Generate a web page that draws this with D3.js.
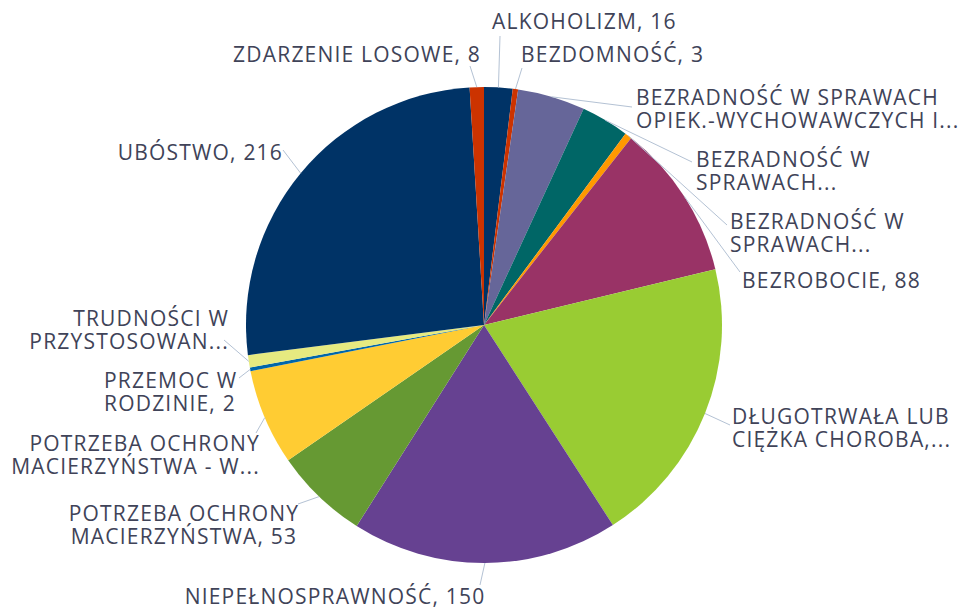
<!DOCTYPE html>
<html>
<head>
<meta charset="utf-8">
<script src="https://cdn.jsdelivr.net/npm/d3@7"></script>
<style>
  body { margin: 0; background: #fff; }
  svg text { font-family: "Open Sans", sans-serif; fill: #404358; }
</style>
</head>
<body>
<svg id="chart" width="964" height="609"></svg>
<script>
// categories in the order they appear, clockwise from 12 o'clock
let categories = [
  "ALKOHOLIZM", "BEZDOMNOŚĆ", "BEZRADNOŚĆ W SPRAWACH OPIEK.-WYCHOWAWCZYCH I...",
  "BEZRADNOŚĆ W SPRAWACH...", "BEZRADNOŚĆ W SPRAWACH...", "BEZROBOCIE",
  "DŁUGOTRWAŁA LUB CIĘŻKA CHOROBA", "NIEPEŁNOSPRAWNOŚĆ", "POTRZEBA OCHRONY MACIERZYŃSTWA",
  "POTRZEBA OCHRONY MACIERZYŃSTWA - W...", "PRZEMOC W RODZINIE", "TRUDNOŚCI W PRZYSTOSOWANIU",
  "UBÓSTWO", "ZDARZENIE LOSOWE"
];
let values = [16, 3, 38, 27, 4, 88, 163, 150, 53, 54, 2, 7, 216, 8];

// label text as shown (truncated ones keep the ellipsis)
let labelLines = [
  ["ALKOHOLIZM, 16"],
  ["BEZDOMNOŚĆ, 3"],
  ["BEZRADNOŚĆ W SPRAWACH", "OPIEK.-WYCHOWAWCZYCH I..."],
  ["BEZRADNOŚĆ W", "SPRAWACH..."],
  ["BEZRADNOŚĆ W", "SPRAWACH..."],
  ["BEZROBOCIE, 88"],
  ["DŁUGOTRWAŁA LUB", "CIĘŻKA CHOROBA,..."],
  ["NIEPEŁNOSPRAWNOŚĆ, 150"],
  ["POTRZEBA OCHRONY", "MACIERZYŃSTWA, 53"],
  ["POTRZEBA OCHRONY", "MACIERZYŃSTWA - W..."],
  ["PRZEMOC W", "RODZINIE, 2"],
  ["TRUDNOŚCI W", "PRZYSTOSOWAN..."],
  ["UBÓSTWO, 216"],
  ["ZDARZENIE LOSOWE, 8"]
];

let colors = ["#003366", "#cc3300", "#666699", "#006666", "#ff9900", "#993366",
              "#99cc33", "#664191", "#669933", "#ffcc33", "#0066aa", "#e6ea80"];

// label layout: text anchor x, first baseline y, alignment, leader end point
let labelLayout = [
  {x: 492, y: 29, anchor: "start", lx: 500, ly: 36},
  {x: 521, y: 62, anchor: "start", lx: 522, ly: 68},
  {x: 636, y: 105, anchor: "start", lx: 632, ly: 107},
  {x: 696, y: 167, anchor: "start", lx: 692, ly: 162},
  {x: 730, y: 229, anchor: "start", lx: 727, ly: 225},
  {x: 742, y: 288, anchor: "start", lx: 740, ly: 272},
  {x: 732, y: 424, anchor: "start", lx: 730, ly: 425},
  {x: 335, y: 604, anchor: "middle", lx: 480, ly: 585},
  {x: 184, y: 521, anchor: "middle", lx: 298, ly: 504},
  {x: 260, y: 451, anchor: "end", lx: 256, ly: 433},
  {x: 104, y: 388, anchor: "start", lx: 239, ly: 378},
  {x: 229, y: 326, anchor: "end", lx: 224, ly: 340},
  {x: 283, y: 160, anchor: "end", lx: 283, ly: 150},
  {x: 481, y: 62, anchor: "end", lx: 470, ly: 66}
];

let cx = 484, cy = 325, radius = 238;
let svg = d3.select("#chart");

let color = d3.scaleOrdinal().domain(d3.range(values.length)).range(colors);

let pie = d3.pie().sort(null).value(d => d)(values);
let arc = d3.arc().innerRadius(0).outerRadius(radius);

let g = svg.append("g").attr("transform", "translate(" + cx + "," + cy + ")");

g.selectAll("path.slice")
  .data(pie)
  .enter()
  .append("path")
  .attr("class", "slice")
  .attr("d", arc)
  .attr("fill", (d, i) => color(i));

// leader lines from the slice edge to the label
g.selectAll("line.leader")
  .data(pie)
  .enter()
  .append("line")
  .attr("class", "leader")
  .attr("x1", d => Math.sin((d.startAngle + d.endAngle) / 2) * radius)
  .attr("y1", d => -Math.cos((d.startAngle + d.endAngle) / 2) * radius)
  .attr("x2", (d, i) => labelLayout[i].lx - cx)
  .attr("y2", (d, i) => labelLayout[i].ly - cy)
  .attr("stroke", "#b4c2d4")
  .attr("stroke-width", 1);

let labels = svg.selectAll("text.lbl")
  .data(labelLines)
  .enter()
  .append("text")
  .attr("class", "lbl")
  .attr("x", (d, i) => labelLayout[i].x)
  .attr("y", (d, i) => labelLayout[i].y)
  .attr("text-anchor", (d, i) => labelLayout[i].anchor)
  .style("font-size", "21px")
  .style("letter-spacing", "1.2px");

labels.each(function(lines, i) {
  let t = d3.select(this);
  lines.forEach((ln, k) => {
    t.append("tspan")
      .attr("x", labelLayout[i].x)
      .attr("dy", k === 0 ? 0 : 23)
      .text(ln);
  });
});
</script>
</body>
</html>
